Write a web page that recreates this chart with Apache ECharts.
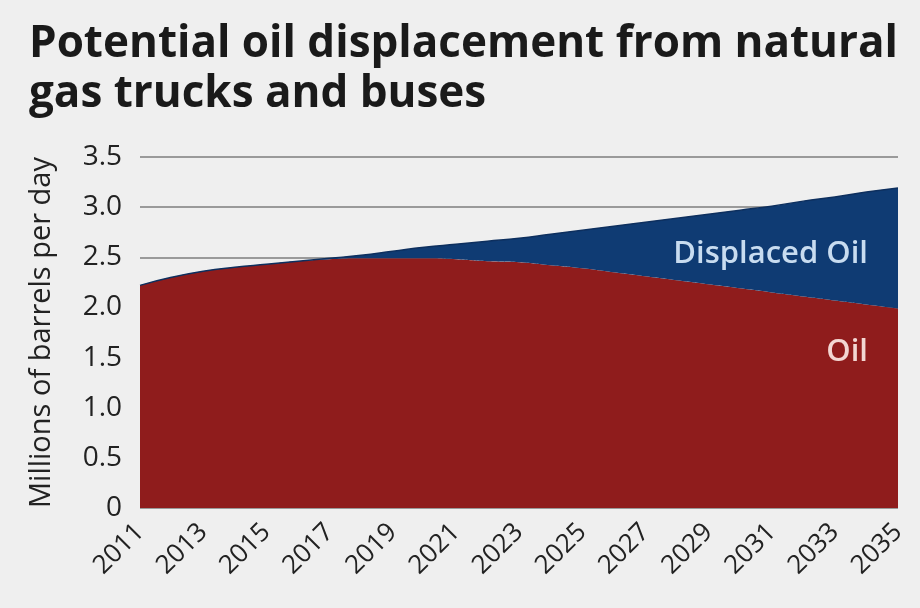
<!DOCTYPE html>
<html>
<head>
<meta charset="utf-8">
<script src="https://cdn.jsdelivr.net/npm/echarts@6/dist/echarts.min.js"></script>
<style>
  html, body { margin: 0; padding: 0; background: #efefef; }
  #main { width: 920px; height: 608px; }
</style>
</head>
<body>
<div id="main"></div>
<script>
// years on the x axis
var years = ['2011','2012','2013','2014','2015','2016','2017','2018','2019','2020','2021','2022','2023',
  '2024','2025','2026','2027','2028','2029','2030','2031','2032','2033','2034','2035'];
// oil still used (millions of barrels per day)
var oil = [2.22, 2.30, 2.36, 2.40, 2.43, 2.46, 2.48, 2.49, 2.49, 2.49, 2.48, 2.46, 2.45,
  2.42, 2.39, 2.35, 2.31, 2.27, 2.23, 2.19, 2.15, 2.11, 2.07, 2.03, 1.99];
// total demand, oil + displaced
var total = [2.22, 2.30, 2.36, 2.40, 2.43, 2.46, 2.49, 2.52, 2.56, 2.60, 2.63, 2.66, 2.69,
  2.73, 2.77, 2.81, 2.85, 2.89, 2.93, 2.97, 3.01, 3.06, 3.10, 3.15, 3.19];
var displaced = total.map(function (t, i) { return +(t - oil[i]).toFixed(2); });
var yTicks = [0, 0.5, 1.0, 1.5, 2.0, 2.5, 3.0, 3.5];

var chart = echarts.init(document.getElementById('main'));

var option = {
  backgroundColor: '#efefef',
  animation: false,
  title: {
    text: 'Potential oil displacement from natural\ngas trucks and buses',
    left: 24,
    top: 14,
    textStyle: {
      fontFamily: 'Open Sans',
      fontWeight: 'bold',
      fontSize: 44,
      lineHeight: 50,
      color: '#1a1a1a'
    }
  },
  grid: {
    left: 140,
    right: 22,
    top: 157,
    bottom: 100
  },
  xAxis: {
    type: 'category',
    data: years,
    boundaryGap: false,
    axisLine: { show: false },
    axisTick: { show: false },
    axisLabel: {
      interval: 1,
      rotate: 45,
      margin: 20,
      fontFamily: 'Open Sans',
      fontSize: 26,
      color: '#222'
    }
  },
  yAxis: {
    type: 'value',
    min: 0,
    max: yTicks[yTicks.length - 1],
    interval: 0.5,
    name: 'Millions of barrels per day',
    nameLocation: 'middle',
    nameGap: 84,
    nameTextStyle: {
      fontFamily: 'Open Sans',
      fontSize: 29,
      color: '#222'
    },
    axisLine: { show: false },
    axisTick: { show: false },
    splitLine: { lineStyle: { color: '#9a9a9a', width: 2 } },
    axisLabel: {
      margin: 18,
      fontFamily: 'Open Sans',
      fontSize: 28,
      color: '#222',
      formatter: function (v) { return v === 0 ? '0' : v.toFixed(1); }
    }
  },
  series: [
    {
      name: 'Oil',
      type: 'line',
      stack: 'all',
      smooth: true,
      symbol: 'none',
      lineStyle: { width: 0 },
      areaStyle: { color: '#8f1c1c', opacity: 1 },
      data: oil
    },
    {
      name: 'Displaced Oil',
      type: 'line',
      stack: 'all',
      smooth: true,
      symbol: 'none',
      lineStyle: { width: 1.5, color: '#0d2f5e' },
      areaStyle: { color: '#0f3b73', opacity: 1 },
      data: displaced
    }
  ],
  graphic: [
    {
      type: 'text',
      z: 100,
      right: 52,
      top: 239,
      style: {
        text: 'Displaced Oil',
        fontFamily: 'Open Sans',
        fontWeight: 600,
        fontSize: 31,
        fill: '#c8dcf0'
      }
    },
    {
      type: 'text',
      z: 100,
      right: 52,
      top: 337,
      style: {
        text: 'Oil',
        fontFamily: 'Open Sans',
        fontWeight: 600,
        fontSize: 31,
        fill: '#f3d6d2'
      }
    }
  ]
};

chart.setOption(option);
</script>
</body>
</html>
